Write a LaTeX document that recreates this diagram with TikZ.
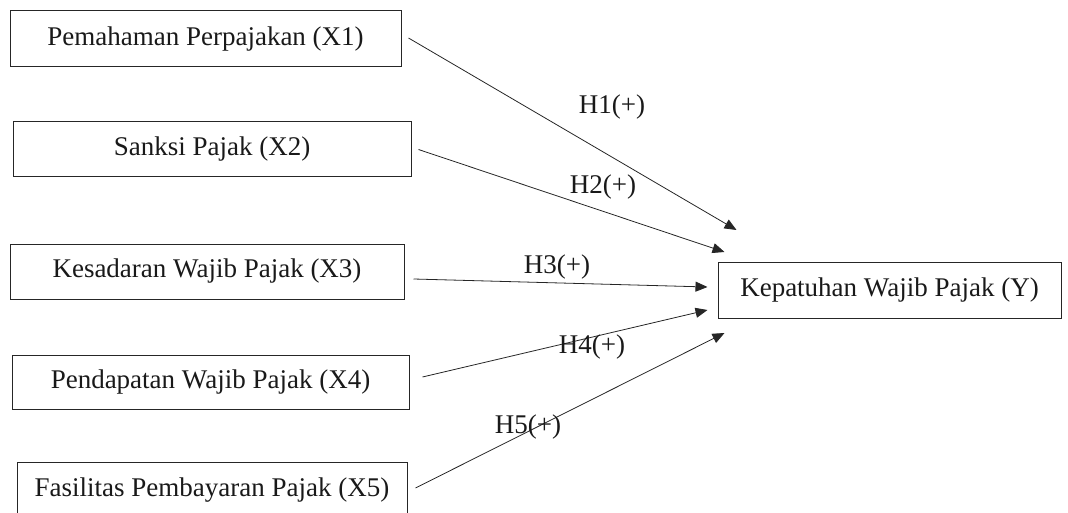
\documentclass[tikz,border=0pt]{standalone}
\usepackage{fontspec}
\setmainfont{Liberation Serif}
\usepackage{tikz}
\usetikzlibrary{arrows.meta}

\begin{document}
\begin{tikzpicture}[x=1pt,y=-1pt
    ,var/.style={draw=black!85,line width=1pt,minimum height=56pt,inner sep=0pt
                ,text=black!90,font=\fontsize{27}{32}\selectfont}
    ,link/.style={-{Triangle[length=12pt,width=10pt]},line width=0.8pt,black!85}
    ,hyp/.style={inner sep=0pt,text=black!90,font=\fontsize{27}{32}\selectfont}]
  \useasboundingbox (0,0) rectangle (1068,513);
  \clip (0,0) rectangle (1068,513);
  % variables
  \node[var,minimum width=391pt] (x1) at (205.5,39) {Pemahaman Perpajakan (X1)};
  \node[var,minimum width=398pt,minimum height=55pt] (x2) at (212,149.5) {Sanksi Pajak (X2)};
  \node[var,minimum width=394pt,minimum height=55pt] (x3) at (207,271.5) {Kesadaran Wajib Pajak (X3)};
  \node[var,minimum width=397pt,minimum height=54pt] (x4) at (210.5,382) {Pendapatan Wajib Pajak (X4)};
  \node[var,minimum width=390pt] (x5) at (212,490) {Fasilitas Pembayaran Pajak (X5)};
  \node[var,minimum width=343pt] (kwp) at (889.5,290) {Kepatuhan Wajib Pajak (Y)};
  % arrow ends
  \coordinate (t1) at ([shift={(19,-60)}]kwp.west);
  \coordinate (t2) at ([shift={(7,-38)}]kwp.west);
  \coordinate (t3) at ([shift={(-10,-3)}]kwp.west);
  \coordinate (t4) at ([shift={(-10,20)}]kwp.west);
  \coordinate (t5) at ([shift={(7,43)}]kwp.west);
  \draw[link] ([shift={(7,-1)}]x1.east) -- (t1);
  \draw[link] ([shift={(7,0)}]x2.east) -- (t2);
  \draw[link] ([shift={(9,7.5)}]x3.east) -- (t3);
  \draw[link] ([shift={(13,-5)}]x4.east) -- (t4);
  \draw[link] ([shift={(8,-2)}]x5.east) -- (t5);
  % hypotheses
  \node[hyp] (h1) at (612,107) {H1(+)};
  \node[hyp] (h2) at (603,187) {H2(+)};
  \node[hyp] (h3) at (557,267) {H3(+)};
  \node[hyp] (h4) at (592,347) {H4(+)};
  \node[hyp] (h5) at (528,427) {H5(+)};
\end{tikzpicture}
\end{document}
